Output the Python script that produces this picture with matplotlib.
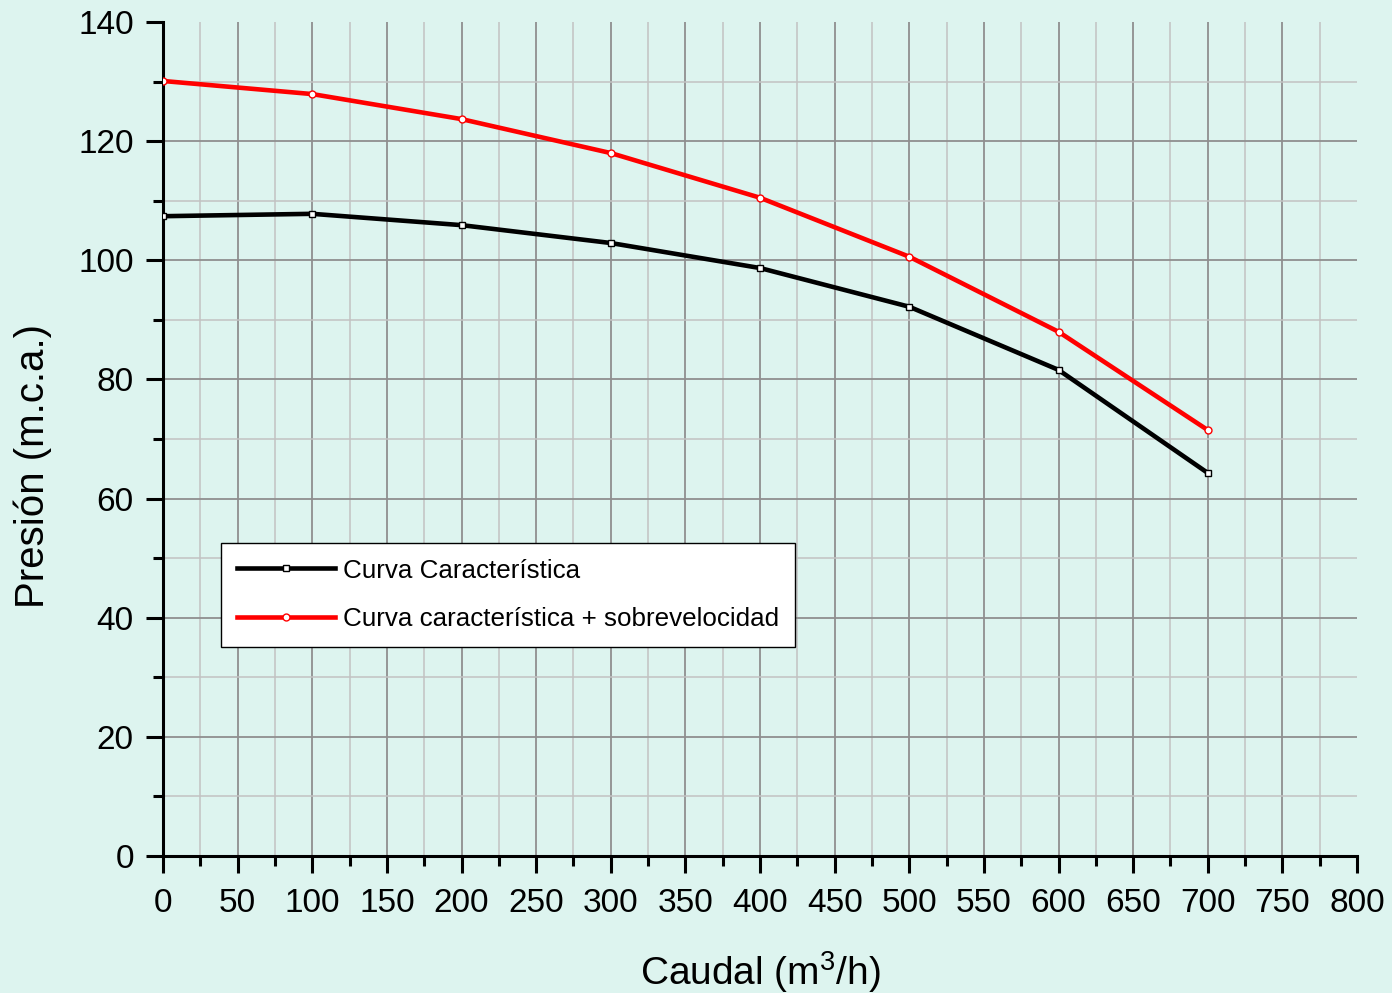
import matplotlib
matplotlib.use("Agg")
import matplotlib.pyplot as plt
from matplotlib.ticker import MultipleLocator, FixedLocator

plt.rcParams['font.family'] = ['Liberation Sans', 'DejaVu Sans']
plt.rcParams['mathtext.fontset'] = 'custom'
plt.rcParams['mathtext.rm'] = 'Liberation Sans'
plt.rcParams['mathtext.it'] = 'Liberation Sans'

caudal = [0, 100, 200, 300, 400, 500, 600, 700]
curva_caracteristica = [107.4, 107.8, 105.9, 102.9, 98.7, 92.2, 81.6, 64.3]
curva_sobrevelocidad = [130.1, 127.9, 123.7, 118.0, 110.5, 100.6, 88.0, 71.5]
label_1 = "Curva Característica"
label_2 = "Curva característica + sobrevelocidad"
x_ticks = list(range(0, 801, 50))
y_ticks = list(range(0, 141, 20))

bg = '#ddf4ef'
fig = plt.figure(figsize=(13.92, 9.93), dpi=100, facecolor=bg)
ax = fig.add_axes([163/1392, 1-856/993, (1357-163)/1392, (856-22)/993])
ax.set_facecolor(bg)

ax.plot(caudal, curva_caracteristica, color='black', lw=3.3, marker='s', ms=5,
        mfc='white', mec='black', mew=1.0, label=label_1, zorder=3)
ax.plot(caudal, curva_sobrevelocidad, color='red', lw=3.3, marker='o', ms=5,
        mfc='white', mec='red', mew=1.0, label=label_2, zorder=3)

ax.set_xlim(0, 800)
ax.set_ylim(0, 140)
ax.xaxis.set_major_locator(FixedLocator(x_ticks))
ax.xaxis.set_minor_locator(MultipleLocator(25))
ax.yaxis.set_major_locator(FixedLocator(y_ticks))
ax.yaxis.set_minor_locator(MultipleLocator(10))

ax.grid(which='major', color='#8f8f8f', lw=1.3, zorder=0)
ax.grid(which='minor', color='#c2c2c2', lw=1.1, zorder=0)
ax.set_axisbelow(True)
ax.xaxis.get_major_ticks()[-1].gridline.set_visible(False)
ax.yaxis.get_major_ticks()[-1].gridline.set_visible(False)

for s in ['top', 'right']:
    ax.spines[s].set_visible(False)
for s in ['left', 'bottom']:
    ax.spines[s].set_linewidth(2.2)

ax.tick_params(which='major', length=12, width=2.2, labelsize=24, direction='out')
ax.tick_params(axis='x', which='major', pad=11)
ax.tick_params(axis='y', which='major', pad=9)
ax.tick_params(which='minor', length=7, width=2.2, direction='out')

ax.set_xlabel('Caudal (m$^3$/h)', fontsize=28)
ax.set_ylabel('Presión (m.c.a.)', fontsize=29)
ax.xaxis.set_label_coords(0.5, -0.112)
ax.yaxis.set_label_coords(-0.093, 0.468)

leg = ax.legend(loc='upper left', bbox_to_anchor=((221-163)/1194, (856-543)/834),
                fontsize=18.7, frameon=True, fancybox=False, framealpha=1,
                edgecolor='black', facecolor='white', handlelength=3.8,
                handletextpad=0.3, labelspacing=0.95, borderpad=0.6,
                borderaxespad=0)
leg.get_frame().set_linewidth(1.0)

fig.savefig('out.png', dpi=100, facecolor=bg)
